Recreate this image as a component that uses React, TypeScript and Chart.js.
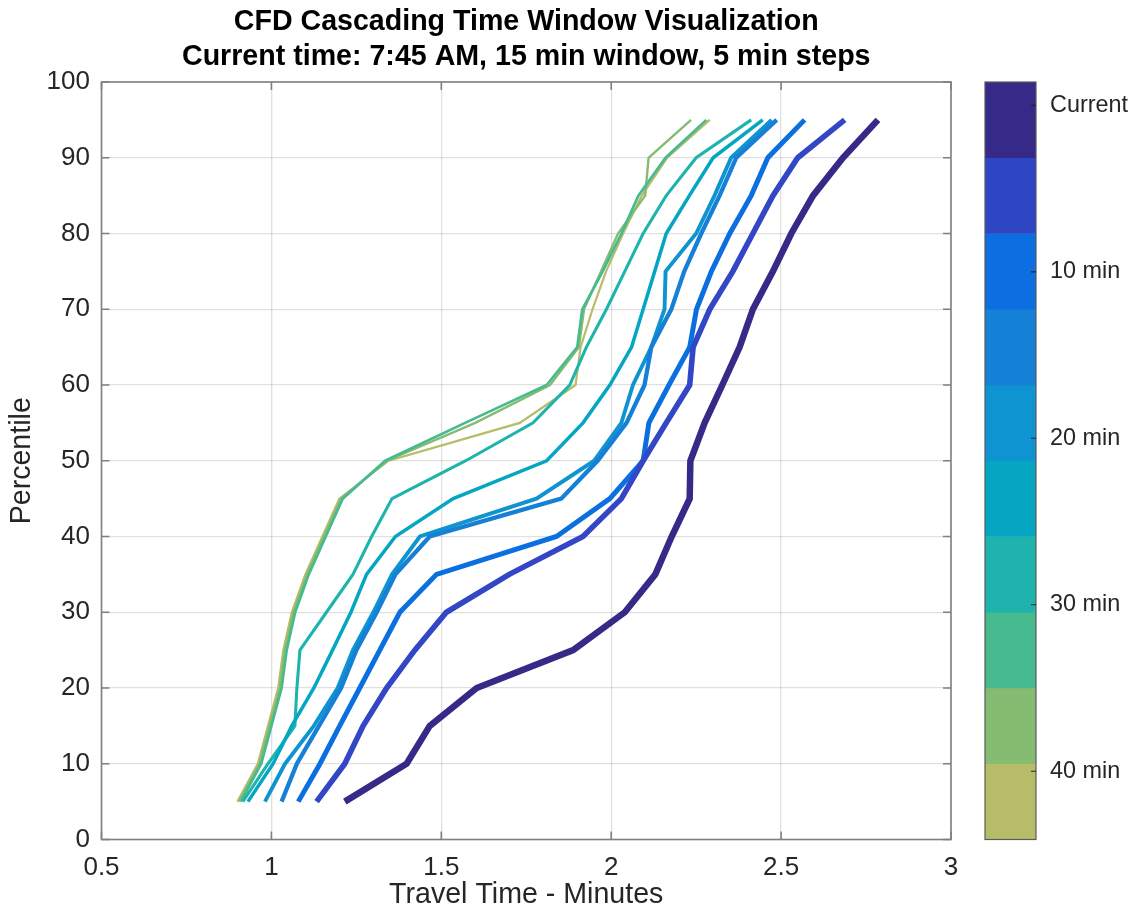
import React, { useEffect, useRef } from "react";
import { Chart, registerables } from "chart.js";

Chart.register(...registerables);

const FONT = "'Liberation Sans', Arial, Helvetica, sans-serif";
const TEXT_COLOR = "#262626";
const AXIS_COLOR = "#808080";

const TITLE_LINES = [
  "CFD Cascading Time Window Visualization",
  "Current time: 7:45 AM, 15 min window, 5 min steps",
];
const X_LABEL = "Travel Time - Minutes";
const Y_LABEL = "Percentile";

const PERCENTILES = [5, 10, 15, 20, 25, 30, 35, 40, 45, 50, 55, 60, 65, 70, 75, 80, 85, 90, 95];

const CURRENT = [1.216, 1.398, 1.466, 1.604, 1.888, 2.04, 2.13, 2.178, 2.231, 2.233, 2.275, 2.327, 2.378, 2.417, 2.476, 2.53, 2.594, 2.682, 2.785];
const MIN_5 = [1.133, 1.216, 1.27, 1.339, 1.422, 1.515, 1.7, 1.917, 2.03, 2.094, 2.162, 2.231, 2.241, 2.29, 2.358, 2.417, 2.476, 2.549, 2.687];
const MIN_10 = [1.079, 1.143, 1.201, 1.26, 1.319, 1.378, 1.486, 1.839, 1.996, 2.094, 2.111, 2.17, 2.231, 2.251, 2.295, 2.349, 2.412, 2.461, 2.569];
const MIN_15 = [1.03, 1.075, 1.14, 1.205, 1.25, 1.31, 1.365, 1.466, 1.853, 1.96, 2.045, 2.098, 2.118, 2.177, 2.215, 2.265, 2.319, 2.368, 2.487];
const MIN_20 = [0.981, 1.04, 1.125, 1.195, 1.24, 1.3, 1.355, 1.437, 1.78, 1.95, 2.03, 2.064, 2.118, 2.157, 2.16, 2.25, 2.304, 2.353, 2.472];
const MIN_25 = [0.931, 1.005, 1.06, 1.125, 1.18, 1.234, 1.28, 1.365, 1.535, 1.81, 1.917, 1.996, 2.06, 2.094, 2.128, 2.162, 2.23, 2.3, 2.446];
const MIN_30 = [0.916, 0.99, 1.069, 1.075, 1.084, 1.162, 1.24, 1.295, 1.355, 1.572, 1.77, 1.878, 1.927, 1.986, 2.04, 2.094, 2.162, 2.25, 2.412];
const MIN_35 = [0.91, 0.97, 1.0, 1.03, 1.045, 1.07, 1.11, 1.16, 1.21, 1.335, 1.57, 1.81, 1.9, 1.915, 1.975, 2.03, 2.08, 2.16, 2.28];
const MIN_40 = [0.905, 0.965, 0.995, 1.025, 1.04, 1.065, 1.105, 1.155, 1.205, 1.34, 1.6, 1.82, 1.905, 1.92, 1.97, 2.02, 2.1, 2.11, 2.235];
const MIN_45 = [0.9, 0.96, 0.99, 1.02, 1.035, 1.06, 1.1, 1.15, 1.2, 1.345, 1.731, 1.895, 1.91, 1.945, 1.985, 2.035, 2.09, 2.165, 2.29];

const SERIES = [CURRENT, MIN_5, MIN_10, MIN_15, MIN_20, MIN_25, MIN_30, MIN_35, MIN_40, MIN_45];
const SERIES_NAMES = ["Current", "5 min", "10 min", "15 min", "20 min", "25 min", "30 min", "35 min", "40 min", "45 min"];
const SERIES_COLORS = ["#352a87", "#3246c6", "#0b6fe0", "#1580d5", "#0e94d0", "#05a6c2", "#1eb4ad", "#47ba90", "#86bb72", "#b6bc67"];
const SERIES_WIDTHS = [6.5, 5.6, 5.0, 4.3, 3.9, 3.5, 3.1, 2.7, 2.4, 2.2];

const CB_EDGES = [-1.4, 3.15, 7.7, 12.25, 16.8, 21.35, 25.9, 30.45, 35.0, 39.55, 44.1];
const CB_COLORS = ["#352a87", "#2f46c4", "#0c6ee1", "#1581d6", "#0e94d1", "#05a6c2", "#1eb4ad", "#47ba90", "#86bb72", "#b6bc67"];
const CB_TICK_VALUES = [0, 10, 20, 30, 40];
const CB_TICK_LABELS = ["Current", "10 min", "20 min", "30 min", "40 min"];

const titlePlugin = {
  id: "centeredTitle",
  afterDraw(chart: any) {
    const { ctx, chartArea: a } = chart;
    const cx = (a.left + a.right) / 2;
    ctx.save();
    ctx.fillStyle = "#000000";
    ctx.font = "bold 28.6px " + FONT;
    ctx.textAlign = "center";
    ctx.textBaseline = "middle";
    ctx.fillText(TITLE_LINES[0], cx, 22);
    ctx.fillText(TITLE_LINES[1], cx, 57);
    ctx.restore();
  },
};

const axesFramePlugin = {
  id: "axesFrame",
  afterDraw(chart: any) {
    const { ctx, chartArea: a, scales } = chart;
    ctx.save();
    ctx.strokeStyle = AXIS_COLOR;
    ctx.lineWidth = 1.6;
    ctx.strokeRect(a.left, a.top, a.right - a.left, a.bottom - a.top);
    const len = 8;
    ctx.beginPath();
    scales.x.ticks.forEach((t: any) => {
      const px = scales.x.getPixelForValue(t.value);
      ctx.moveTo(px, a.bottom);
      ctx.lineTo(px, a.bottom - len);
      ctx.moveTo(px, a.top);
      ctx.lineTo(px, a.top + len);
    });
    scales.y.ticks.forEach((t: any) => {
      const py = scales.y.getPixelForValue(t.value);
      ctx.moveTo(a.left, py);
      ctx.lineTo(a.left + len, py);
      ctx.moveTo(a.right, py);
      ctx.lineTo(a.right - len, py);
    });
    ctx.stroke();
    ctx.restore();
  },
};

const colorbarFramePlugin = {
  id: "cbFrame",
  afterDraw(chart: any) {
    const { ctx, chartArea: a, scales } = chart;
    ctx.save();
    ctx.strokeStyle = "#5a5a5a";
    ctx.lineWidth = 1.2;
    ctx.strokeRect(a.left, a.top, a.right - a.left, a.bottom - a.top);
    ctx.strokeStyle = "#262626";
    ctx.beginPath();
    CB_TICK_VALUES.forEach((v) => {
      const py = scales.y.getPixelForValue(v);
      ctx.moveTo(a.right, py);
      ctx.lineTo(a.right - 5, py);
    });
    ctx.stroke();
    ctx.restore();
  },
};

export default function App() {
  const mainRef = useRef<HTMLCanvasElement | null>(null);
  const cbRef = useRef<HTMLCanvasElement | null>(null);

  useEffect(() => {
    if (!mainRef.current || !cbRef.current) return;

    const datasets = SERIES.map((vals, i) => ({
      label: SERIES_NAMES[i],
      data: PERCENTILES.map((p, j) => ({ x: vals[j], y: p })),
      borderColor: SERIES_COLORS[i],
      backgroundColor: SERIES_COLORS[i],
      borderWidth: SERIES_WIDTHS[i],
      pointRadius: 0,
      tension: 0,
      fill: false,
    }));

    const main = new Chart(mainRef.current, {
      type: "line",
      data: { datasets },
      options: {
        animation: false,
        responsive: false,
        devicePixelRatio: 1,
        layout: { padding: { left: 0, right: 183, top: 82, bottom: 0 } },
        plugins: {
          legend: { display: false },
          tooltip: { enabled: false },
          title: { display: false },
        },
        scales: {
          x: {
            type: "linear",
            min: 0.5,
            max: 3,
            ticks: {
              stepSize: 0.5,
              color: TEXT_COLOR,
              font: { family: FONT, size: 26 },
              padding: 12.4,
              maxRotation: 0,
              callback: (v: any) => String(Number(v)),
            },
            grid: { color: "rgba(0,0,0,0.12)", lineWidth: 1.3, drawTicks: false },
            border: { display: false },
            title: {
              display: true,
              text: X_LABEL,
              color: TEXT_COLOR,
              font: { family: FONT, size: 28.6 },
              padding: { top: 0, bottom: 6 },
            },
            afterFit: (s: any) => {
              s.height = 78.5;
            },
          },
          y: {
            type: "linear",
            min: 0,
            max: 100,
            ticks: {
              stepSize: 10,
              color: TEXT_COLOR,
              font: { family: FONT, size: 26 },
              padding: 11.5,
            },
            grid: { color: "rgba(0,0,0,0.12)", lineWidth: 1.3, drawTicks: false },
            border: { display: false },
            title: {
              display: true,
              text: Y_LABEL,
              color: TEXT_COLOR,
              font: { family: FONT, size: 28.6 },
              padding: { top: 4.8, bottom: 0 },
            },
            afterFit: (s: any) => {
              s.width = 101.5;
            },
          },
        },
      } as any,
      plugins: [axesFramePlugin, titlePlugin],
    });

    const cbDatasets = CB_COLORS.map((c, i) => ({
      label: "bin" + i,
      data: [[CB_EDGES[i], CB_EDGES[i + 1]]],
      backgroundColor: c,
      borderWidth: 0,
      grouped: false,
      barPercentage: 1,
      categoryPercentage: 1,
    }));

    const cb = new Chart(cbRef.current, {
      type: "bar",
      data: { labels: [""], datasets: cbDatasets as any },
      options: {
        animation: false,
        responsive: false,
        devicePixelRatio: 1,
        layout: { padding: { left: 10, right: 0, top: 82, bottom: 78.5 } },
        plugins: { legend: { display: false }, tooltip: { enabled: false }, title: { display: false } },
        scales: {
          x: { display: false },
          y: {
            type: "linear",
            position: "right",
            reverse: true,
            min: CB_EDGES[0],
            max: CB_EDGES[CB_EDGES.length - 1],
            afterBuildTicks: (s: any) => {
              s.ticks = CB_TICK_VALUES.map((v) => ({ value: v }));
            },
            ticks: {
              color: TEXT_COLOR,
              font: { family: FONT, size: 23.4 },
              padding: 14,
              callback: (v: any) => {
                const idx = CB_TICK_VALUES.indexOf(Number(v));
                return idx >= 0 ? CB_TICK_LABELS[idx] : "";
              },
            },
            grid: { display: false, drawTicks: false },
            border: { display: false },
            afterFit: (s: any) => {
              s.width = 98;
            },
          },
        },
      } as any,
      plugins: [colorbarFramePlugin],
    });

    return () => {
      main.destroy();
      cb.destroy();
    };
  }, []);

  return (
    <div style={{ position: "fixed", left: 0, top: 0, width: 1134, height: 918, background: "#ffffff" }}>
      <canvas ref={mainRef} width={1134} height={918} style={{ position: "absolute", left: 0, top: 0 }} />
      <canvas ref={cbRef} width={159} height={918} style={{ position: "absolute", left: 975, top: 0 }} />
    </div>
  );
}
